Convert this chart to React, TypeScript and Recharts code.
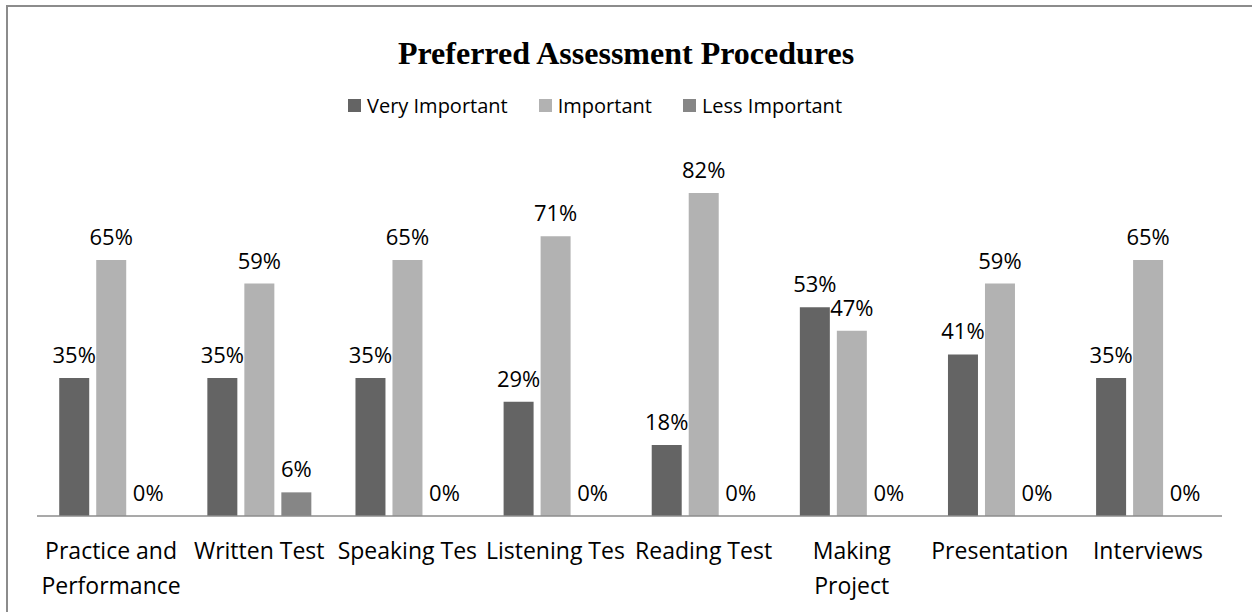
import { Bar, BarChart, LabelList, Legend, XAxis, YAxis } from "recharts";

const categories = [
  "Practice and\nPerformance",
  "Written Test",
  "Speaking Tes",
  "Listening Tes",
  "Reading Test",
  "Making\nProject",
  "Presentation",
  "Interviews",
];
const veryImportant = [35, 35, 35, 29, 18, 53, 41, 35];
const important = [65, 59, 65, 71, 82, 47, 59, 65];
const lessImportant = [0, 6, 0, 0, 0, 0, 0, 0];

const seriesNames = ["Very Important", "Important", "Less Important"];
const seriesColors = ["#646464", "#b2b2b2", "#868686"];

const data = categories.map((name, i) => ({
  name,
  v0: veryImportant[i],
  v1: important[i],
  v2: lessImportant[i],
}));

const font = "'Open Sans', Lato, sans-serif";

function CategoryTick(props: any) {
  const { x, y, payload } = props;
  const lines = String(payload.value).split("\n");
  return (
    <g transform={`translate(${x},${y})`}>
      {lines.map((line, i) => (
        <text
          key={i}
          x={0}
          y={35 + i * 35}
          textAnchor="middle"
          fill="#000"
          fontSize={23}
          fontFamily={font}
        >
          {line}
        </text>
      ))}
    </g>
  );
}

function LegendBox() {
  return (
    <div
      style={{
        height: 30,
        display: "flex",
        justifyContent: "center",
        alignItems: "center",
        gap: 31,
        paddingRight: 62,
        fontFamily: font,
        fontSize: 20,
        color: "#000",
      }}
    >
      {seriesNames.map((n, i) => (
        <span key={n} style={{ display: "flex", alignItems: "center" }}>
          <span
            style={{
              width: 13,
              height: 13,
              background: seriesColors[i],
              display: "inline-block",
              marginRight: 6,
            }}
          />
          {n}
        </span>
      ))}
    </div>
  );
}

export default function App() {
  const fmt = (v: any) => `${v}%`;
  return (
    <div
      style={{
        position: "absolute",
        left: 0,
        top: 0,
        width: 1252,
        height: 612,
        overflow: "hidden",
        background: "#fff",
      }}
    >
      <div
        style={{
          position: "absolute",
          left: 6,
          top: 5,
          width: 1260,
          height: 640,
          border: "2px solid #8c8c8c",
        }}
      />
      <div
        style={{
          position: "absolute",
          left: 0,
          top: 35,
          width: 1252,
          textAlign: "center",
          fontFamily: "'Liberation Serif', 'Times New Roman', serif",
          fontWeight: "bold",
          fontSize: 32,
          lineHeight: "37px",
          color: "#000",
        }}
      >
        Preferred Assessment Procedures
      </div>
      <div style={{ position: "absolute", left: 0, top: 0 }}>
        <BarChart
          width={1252}
          height={612}
          data={data}
          margin={{ top: 92, right: 30, bottom: 0, left: 37 }}
          barCategoryGap="15%"
          barGap={7}
        >
          <XAxis
            dataKey="name"
            height={96}
            tickLine={false}
            axisLine={{ stroke: "#8c8c8c", strokeWidth: 1.5 }}
            tick={<CategoryTick />}
            interval={0}
          />
          <YAxis hide domain={[0, 100]} />
          <Legend
            verticalAlign="top"
            content={<LegendBox />}
            wrapperStyle={{ top: 90, left: 0, width: 1252 }}
          />
          {["v0", "v1", "v2"].map((k, i) => (
            <Bar
              key={k}
              dataKey={k}
              name={seriesNames[i]}
              fill={seriesColors[i]}
              minPointSize={(v: number) => (v === 0 ? 0.01 : 0)}
              isAnimationActive={false}
            >
              <LabelList
                dataKey={k}
                position="top"
                offset={15}
                formatter={fmt}
                fill="#000"
                fontSize={22}
                fontFamily={font}
              />
            </Bar>
          ))}
        </BarChart>
      </div>
    </div>
  );
}
